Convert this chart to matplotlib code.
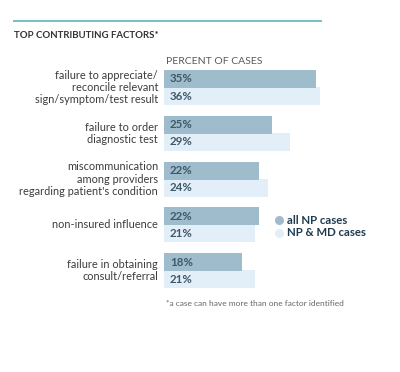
import matplotlib
matplotlib.use("Agg")
import matplotlib.pyplot as plt
import numpy as np

plt.rcParams['font.family'] = ['Lato', 'DejaVu Sans']

# chart data
factors = [
	"failure to appreciate/\nreconcile relevant\nsign/symptom/test result",
	"failure to order\ndiagnostic test",
	"miscommunication\namong providers\nregarding patient's condition",
	"non-insured influence",
	"failure in obtaining\nconsult/referral",
]
np_cases = [35, 25, 22, 22, 18]
np_md_cases = [36, 29, 24, 21, 21]
series_names = ["all NP cases", "NP & MD cases"]

DARK = "#9fbccd"
LIGHT = "#e2eff9"
TEXT = "#3c3c3c"
NUM = "#3f5869"
NAVY = "#1e3a4f"

W, H = 400, 372
fig = plt.figure(figsize=(W/100, H/100), dpi=100)
ax = fig.add_axes([0, 0, 1, 1])
# work in pixel-ish units on y, percent on x
px_per_pct = 4.33
x0 = 164
ax.set_xlim(-x0/px_per_pct, (W - x0)/px_per_pct)
ax.set_ylim(H, 0)
ax.axis("off")

bar_h = 18
top = 70
step = 45.8
tops = top + step*np.arange(len(factors))

ax.barh(tops + bar_h + bar_h/2 - 1, np_md_cases, height=bar_h, color=LIGHT, left=0)
ax.barh(tops + bar_h/2, np_cases, height=bar_h, color=DARK, left=0)

num_x = 6/px_per_pct
lab_x = -6/px_per_pct
for i in range(len(factors)):
	ax.text(num_x, tops[i] + bar_h/2, "%d%%" % np_cases[i], color=NUM, fontsize=8.3,
		fontweight='bold', va='center', ha='left')
	ax.text(num_x, tops[i] + bar_h*1.5 - 1, "%d%%" % np_md_cases[i], color=NUM, fontsize=8.3,
		fontweight='bold', va='center', ha='left')
	ax.text(lab_x, tops[i] + bar_h - 0.5, factors[i], color=TEXT, fontsize=7.9,
		va='center', ha='right', linespacing=1.15)

# header line and titles
ax.plot([13/px_per_pct - x0/px_per_pct, 322/px_per_pct - x0/px_per_pct], [21, 21],
	color="#5fb3bf", lw=1.2, solid_capstyle='butt')
ax.text(14/px_per_pct - x0/px_per_pct, 35, "TOP CONTRIBUTING FACTORS*", color="#333333",
	fontsize=6.9, fontweight='bold', va='center', ha='left')
ax.text(2/px_per_pct, 61, "PERCENT OF CASES", color="#5a5a5a", fontsize=7.5,
	va='center', ha='left')
ax.text(2/px_per_pct, 303, "*a case can have more than one factor identified", color="#666666",
	fontsize=6.0, va='center', ha='left')

# legend
leg_x = (279 - x0)/px_per_pct
for j, (name, col) in enumerate(zip(series_names, [DARK, LIGHT])):
	yy = 220 + j*13
	ax.plot([leg_x], [yy], 'o', color=col, ms=6.5, mec='none')
	ax.text(leg_x + 8/px_per_pct, yy, name, color=NAVY, fontsize=8.2, fontweight='bold',
		va='center', ha='left')

fig.savefig("out.png", dpi=100)
